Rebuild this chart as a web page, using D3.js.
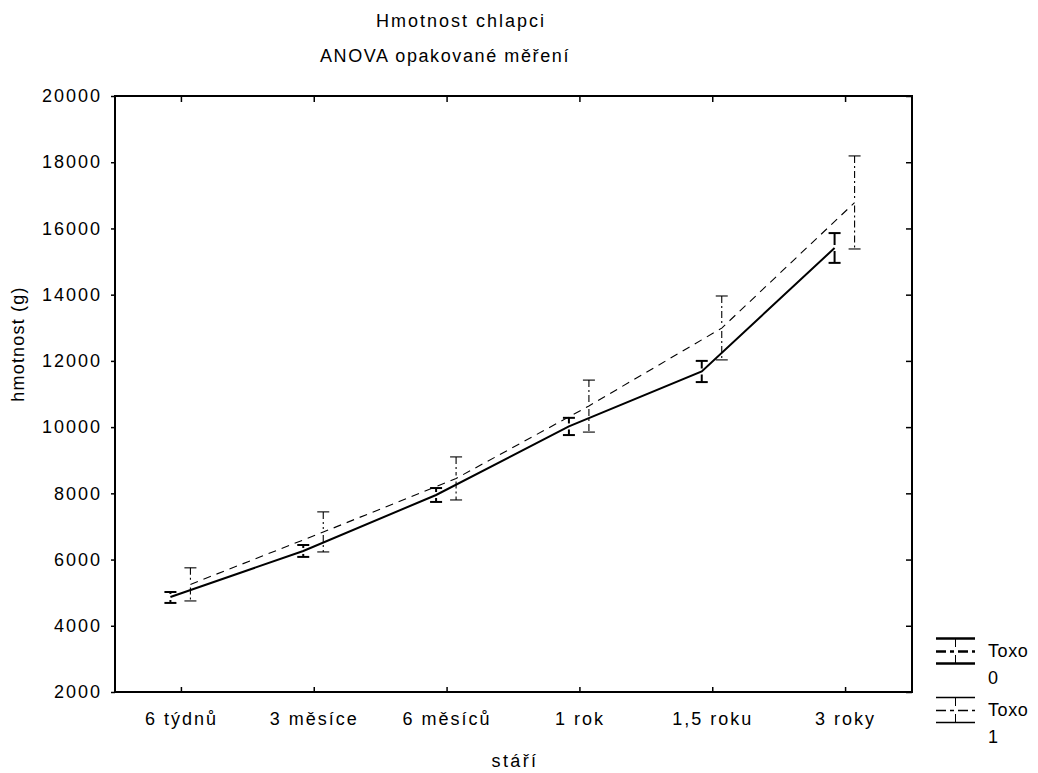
<!DOCTYPE html>
<html>
<head>
<meta charset="utf-8">
<script src="https://cdn.jsdelivr.net/npm/d3@7"></script>
<style>
  body { margin: 0; background: #fff; }
  text { font-family: "Liberation Sans", Arial, sans-serif; fill: #000; }
</style>
</head>
<body>
<script>
// categories (age) and group means / error bar limits
var categories = ["6 týdnů", "3 měsíce", "6 měsíců", "1 rok", "1,5 roku", "3 roky"]
var toxo0Mean = [4870, 6260, 7950, 10020, 11680, 15410]
var toxo0Low  = [4690, 6080, 7740, 9760, 11360, 14960]
var toxo0High = [5020, 6440, 8160, 10280, 12000, 15860]
var toxo1Mean = [5250, 6830, 8450, 10640, 12990, 16780]
var toxo1Low  = [4750, 6230, 7800, 9850, 12030, 15380]
var toxo1High = [5750, 7440, 9100, 11420, 13960, 18190]
var yTicks = [2000, 4000, 6000, 8000, 10000, 12000, 14000, 16000, 18000, 20000]
var seriesNames = ["Toxo 0", "Toxo 1"]

var width = 1038, height = 773
var plotL = 115, plotR = 912, plotT = 96, plotB = 692

var svg = d3.select("body").append("svg")
    .attr("width", width)
    .attr("height", height)

var xScale = d3.scaleBand().domain(categories).range([plotL, plotR])
var yScale = d3.scaleLinear().domain([2000, 20000]).range([plotB, plotT])

// series setup: offset from category centre, line style
var series = [
    { mean: toxo0Mean, lo: toxo0Low, hi: toxo0High, off: -11, w: 2, dash: null, barDash: null },
    { mean: toxo1Mean, lo: toxo1Low, hi: toxo1High, off: 9, w: 1.1, dash: "8,6", barDash: "7,3,2,3" }
]

function cx(i, s) { return xScale(categories[i]) + xScale.bandwidth() / 2 + s.off }

// frame
svg.append("rect")
    .attr("x", plotL).attr("y", plotT)
    .attr("width", plotR - plotL).attr("height", plotB - plotT)
    .attr("fill", "none").attr("stroke", "#000").attr("stroke-width", 2)

// axes
var yAxis = d3.axisLeft(yScale).tickValues(yTicks).tickSize(4).tickFormat(d3.format("d"))
var gy = svg.append("g").attr("transform", "translate(" + plotL + ",0)").call(yAxis)
gy.select(".domain").remove()
gy.selectAll("text").attr("x", -13).style("font-size", "18px").style("letter-spacing", "2px")
gy.attr("font-family", null).attr("font-size", null)

var gyr = svg.append("g").attr("transform", "translate(" + plotR + ",0)")
    .call(d3.axisLeft(yScale).tickValues(yTicks).tickSize(6).tickFormat(""))
gyr.select(".domain").remove()

var xAxis = d3.axisBottom(xScale).tickSize(0).tickPadding(20)
var gx = svg.append("g").attr("transform", "translate(0," + plotB + ")").call(xAxis)
gx.select(".domain").remove()
gx.selectAll("text").style("font-size", "18px").style("letter-spacing", "2px")
gx.attr("font-family", null).attr("font-size", null)

// inward ticks on bottom and top
svg.append("g").attr("transform", "translate(0," + plotB + ")")
    .call(d3.axisTop(xScale).tickSize(5).tickFormat(""))
    .select(".domain").remove()
svg.append("g").attr("transform", "translate(0," + plotT + ")")
    .call(d3.axisBottom(xScale).tickSize(6).tickFormat(""))
    .select(".domain").remove()
svg.selectAll(".tick line").attr("stroke-width", 1.5)

// mean lines
series.forEach(function (s) {
    var line = d3.line()
        .x(function (d, i) { return cx(i, s) })
        .y(function (d) { return yScale(d) })
    svg.append("path")
        .datum(s.mean)
        .attr("d", line)
        .attr("fill", "none")
        .attr("stroke", "#000")
        .attr("stroke-width", s.w)
        .attr("stroke-dasharray", s.dash)
})

// error bars
series.forEach(function (s) {
    var g = svg.append("g")
    s.mean.forEach(function (m, i) {
        var x = cx(i, s)
        var yHi = yScale(s.hi[i]), yLo = yScale(s.lo[i]), yM = yScale(m)
        g.append("line").attr("x1", x).attr("x2", x).attr("y1", yHi).attr("y2", yM - 3)
            .attr("stroke", "#000").attr("stroke-width", s.w).attr("stroke-dasharray", s.barDash)
        g.append("line").attr("x1", x).attr("x2", x).attr("y1", yM + 3).attr("y2", yLo)
            .attr("stroke", "#000").attr("stroke-width", s.w).attr("stroke-dasharray", s.barDash)
        g.append("line").attr("x1", x - 6).attr("x2", x + 6).attr("y1", yHi).attr("y2", yHi)
            .attr("stroke", "#000").attr("stroke-width", s.w)
        g.append("line").attr("x1", x - 6).attr("x2", x + 6).attr("y1", yLo).attr("y2", yLo)
            .attr("stroke", "#000").attr("stroke-width", s.w)
    })
})

// titles
svg.append("text").attr("x", 461).attr("y", 27).attr("text-anchor", "middle")
    .style("font-size", "18px").style("letter-spacing", "2px").text("Hmotnost chlapci")
svg.append("text").attr("x", 445).attr("y", 62).attr("text-anchor", "middle")
    .style("font-size", "18px").style("letter-spacing", "1.6px").text("ANOVA opakované měření")
svg.append("text").attr("transform", "translate(24,344) rotate(-90)").attr("text-anchor", "middle")
    .style("font-size", "18px").style("letter-spacing", "1.2px").text("hmotnost (g)")
svg.append("text").attr("x", 515).attr("y", 767).attr("text-anchor", "middle")
    .style("font-size", "18px").style("letter-spacing", "2.4px").text("stáří")

// legend
var legY = [651, 710]
series.forEach(function (s, k) {
    var g = svg.append("g").attr("transform", "translate(0," + legY[k] + ")")
    g.append("line").attr("x1", 936).attr("x2", 975).attr("y1", -12.5).attr("y2", -12.5)
        .attr("stroke", "#000").attr("stroke-width", s.w + 0.3)
    g.append("line").attr("x1", 936).attr("x2", 975).attr("y1", 12.5).attr("y2", 12.5)
        .attr("stroke", "#000").attr("stroke-width", s.w + 0.3)
    g.append("line").attr("x1", 936).attr("x2", 975).attr("y1", 0.5).attr("y2", 0.5)
        .attr("stroke", "#000").attr("stroke-width", s.w + 0.3).attr("stroke-dasharray", "10,4,4,4")
    g.append("line").attr("x1", 955.5).attr("x2", 955.5).attr("y1", -12).attr("y2", -4)
        .attr("stroke", "#000").attr("stroke-width", 1)
    g.append("line").attr("x1", 955.5).attr("x2", 955.5).attr("y1", 4).attr("y2", 12)
        .attr("stroke", "#000").attr("stroke-width", 1)
    var parts = seriesNames[k].split(" ")
    g.append("text").attr("x", 988).attr("y", 6).style("font-size", "18px").style("letter-spacing", "0.6px").text(parts[0])
    g.append("text").attr("x", 988).attr("y", 33).style("font-size", "18px").text(parts[1])
})
</script>
</body>
</html>
